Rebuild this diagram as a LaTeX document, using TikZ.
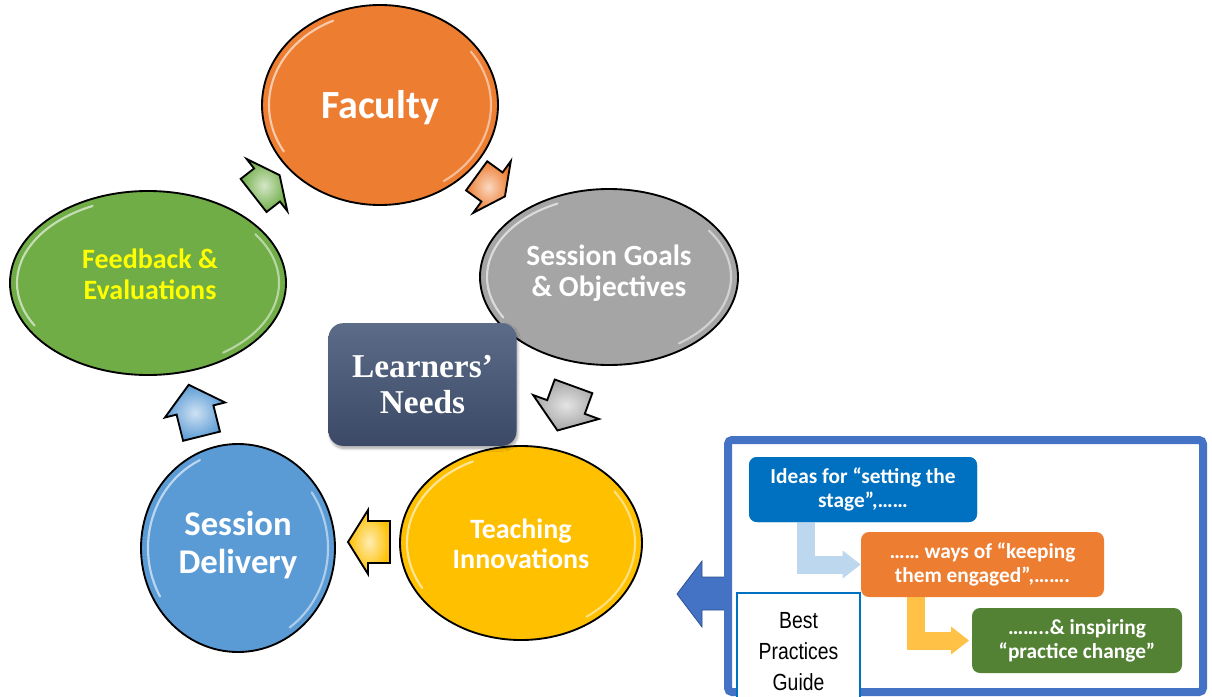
\documentclass[tikz,border=0pt]{standalone}
\usepackage{fontspec}
\setmainfont{Carlito}
\newfontfamily\timesf{Liberation Serif}
\newfontfamily\arialf{Liberation Sans}
\usetikzlibrary{shapes.geometric,arrows.meta,shadows.blur}
\definecolor{cOrange}{HTML}{ED7D31}
\definecolor{cGray}{HTML}{A5A5A5}
\definecolor{cYellow}{HTML}{FFC000}
\definecolor{cBlue}{HTML}{5B9BD5}
\definecolor{cGreen}{HTML}{70AD47}
\definecolor{cTxtYellow}{HTML}{FFFF00}
\definecolor{cSlateT}{HTML}{5B6B88}
\definecolor{cSlateB}{HTML}{3B4966}
\definecolor{cFrame}{HTML}{4472C4}
\definecolor{cFrameD}{HTML}{2F528F}
\definecolor{cBox1}{HTML}{0070C0}
\definecolor{cBox3}{HTML}{548235}
\definecolor{cLightBlue}{HTML}{BDD7EE}
\definecolor{cAmber}{HTML}{FFC247}
\newcommand\gloss[4]{%
  \draw[white, opacity=.6, line width=1.6pt, line cap=round] (#1,#2) ++(150:{#3-7} and {#4-7}) arc[start angle=150,end angle=245,x radius={#3-7},y radius={#4-7}];
  \draw[white, opacity=.5, line width=1.6pt, line cap=round] (#1,#2) ++(-35:{#3-7} and {#4-7}) arc[start angle=-35,end angle=55,x radius={#3-7},y radius={#4-7}];}
\newcommand\cycarrow[8]{%
  \begin{scope}[shift={(#1,#2)},rotate=#3]
  \draw[arr, inner color=#4!30!white, outer color=#4] (#5,0) -- (0,#7) -- (0,#8) -- (-#6,#8) -- (-#6,-#8) -- (0,-#8) -- (0,-#7) -- cycle;
  \end{scope}}
\begin{document}
\begin{tikzpicture}[x=0.75pt,y=-0.75pt,
  bubble/.style={ellipse, draw=black, line width=1.4pt, inner sep=0pt},
  btxt/.style={text=white, font=\bfseries, align=center, inner sep=0pt},
  arr/.style={draw=black, line width=1.4pt, line join=miter},
  gbox/.style={rectangle, rounded corners=6pt, minimum height=48.75pt, text=white,
     font=\bfseries\fontsize{16}{18}\selectfont, align=center, inner sep=0pt},
  bendarrow/.style={line width=13.5pt, line join=miter, -{Triangle[length=13.5pt,width=20pt]}},
]
\useasboundingbox (0,0) rectangle (1212,696);

% cycle bubbles
\node[bubble, fill=cOrange, minimum width=177pt, minimum height=150pt] (fac) at (380,105) {};
\node[bubble, fill=cGray, minimum width=193.5pt, minimum height=132pt] (goal) at (609,277) {};
\node[bubble, fill=cYellow, minimum width=181.5pt, minimum height=145.5pt] (teach) at (521,543) {};
\node[bubble, fill=cBlue, minimum width=145.5pt, minimum height=156pt] (deliv) at (238,548) {};
\node[bubble, fill=cGreen, minimum width=207pt, minimum height=138pt] (feed) at (148,283) {};
\gloss{380}{105}{118}{100}
\gloss{609}{277}{129}{88}
\gloss{521}{543}{121}{97}
\gloss{238}{548}{97}{104}
\gloss{148}{283}{138}{92}

\node[btxt, font=\bfseries\fontsize{30}{36}\selectfont] (fact) at (380,108) {Faculty};
\node[btxt, font=\bfseries\fontsize{22}{23}\selectfont] (goalt) at (609,273) {Session Goals\\\& Objectives};
\node[btxt, font=\bfseries\fontsize{21}{22.5}\selectfont] (teacht) at (521,544) {Teaching\\Innovations};
\node[btxt, font=\bfseries\fontsize{26}{29}\selectfont] (delivt) at (238,545) {Session\\Delivery};
\node[btxt, text=cTxtYellow, font=\bfseries\fontsize{21}{23}\selectfont] (feedt) at (150,274) {Feedback \&\\Evaluations};

% cycle arrows
\cycarrow{267}{185}{38}{cGreen}{16}{17}{33}{21}
\cycarrow{492}{187}{-36}{cOrange}{16}{19}{32}{18}
\cycarrow{566}{407}{-110}{cGray}{25}{22}{35}{20}
\cycarrow{368}{542}{180}{cYellow}{20}{22}{32}{21}
\cycarrow{195}{410}{104}{cBlue}{26}{27}{31}{19}

% centre box
\node[rectangle, rounded corners=11pt, minimum width=141pt, minimum height=92pt,
  top color=cSlateT, bottom color=cSlateB, draw=none,
  blur shadow={shadow blur steps=6, shadow xshift=1pt, shadow yshift=-2pt, shadow opacity=35},
  text=white, font=\timesf\bfseries\fontsize{25}{27}\selectfont, align=center] (learn) at (422.5,384.5) {Learners’\\Needs};

% right panel
\draw[fill=cFrame, draw=cFrameD, line width=0.6pt, line join=miter] (726,577) -- (702,577) -- (702,561) -- (677,594) -- (702,627) -- (702,610) -- (726,610) -- cycle;
\node[draw=cFrame, line width=6pt, rounded corners=3pt, minimum width=356.25pt, minimum height=189pt, inner sep=0pt] (frame) at (965.5,566) {};
\node[draw=cBox1, fill=white, line width=0.8pt, minimum width=92.25pt, minimum height=87.75pt, inner sep=0pt,
  font=\arialf\fontsize{17.5}{23}\selectfont, align=center] (bpg) at (798.5,651.5)
  {\scalebox{.83}[1]{Best}\\\scalebox{.83}[1]{Practices}\\\scalebox{.83}[1]{Guide}};

\coordinate (c1) at (805.5,0);
\coordinate (c2) at (915.5,0);
\node[gbox, minimum width=171pt, fill=cBox1] (b1) at (863,489.5) {Ideas for “setting the\\stage”,……};
\node[gbox, minimum width=182.25pt] (b2) at (982.5,564.5) {};
\node[gbox, minimum width=157.5pt] (b3) at (1077,640.5) {};
\draw[bendarrow, draw=cLightBlue] (c1 |- b1.south) |- (b2.west);
\draw[bendarrow, draw=cAmber, shorten >=2pt] (c2 |- b2.south) |- (b3.west);
\node[gbox, minimum width=171pt, fill=cBox1] (b1f) at (b1) {Ideas for “setting the\\stage”,……};
\node[gbox, minimum width=182.25pt, fill=cOrange] (b2f) at (b2) {…… ways of “keeping\\them engaged”,…….};
\node[gbox, minimum width=157.5pt, fill=cBox3] (b3f) at (b3) {……..\& inspiring\\“practice change”};
\end{tikzpicture}
\end{document}
